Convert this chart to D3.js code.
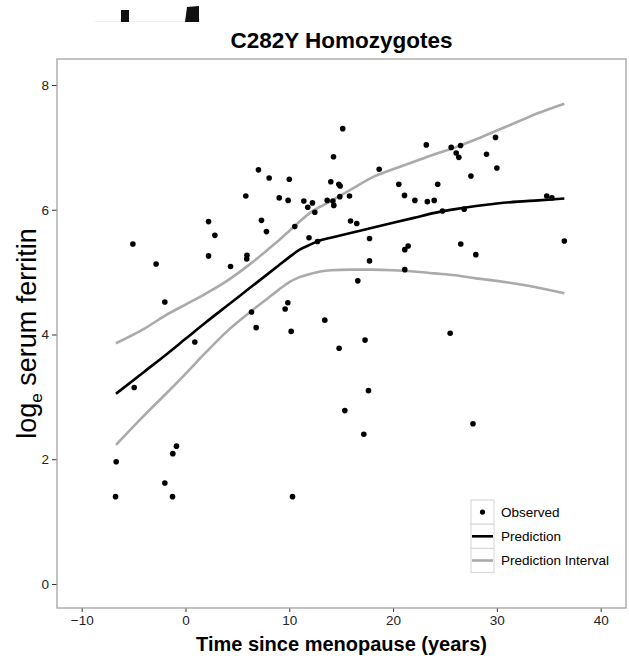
<!DOCTYPE html>
<html>
<head>
<meta charset="utf-8">
<script src="https://cdn.jsdelivr.net/npm/d3@7"></script>
<style>
  html, body { margin: 0; padding: 0; background: #fff; }
  svg { display: block; font-family: "Liberation Sans", Arial, sans-serif; }
</style>
</head>
<body>
<svg id="chart" width="629" height="663"></svg>
<script>
// ---- data ----
const obsX = [
  7.03, 8.06, 10.0, 5.81, 9.03, 9.89, 2.22, 7.32, 2.83, 7.80, -5.07, 2.22, 5.92, 5.90,
  4.34, -2.83, -1.99, 9.86, 9.6, 6.36,
  15.15, 23.2, 25.6, 26.5, 26.08, 26.33, 29.87, 29.0, 30.0, 14.26, 18.66, 14.0, 14.77, 14.9,
  27.5, 20.55, 24.3, 21.1, 22.1, 23.3, 23.96, 11.4, 12.23, 11.78, 13.65, 14.2, 14.29, 14.87,
  15.8, 12.46, 10.53, 15.9, 16.5, 11.9, 12.72, 17.73, 24.76, 26.85, 21.13, 21.45, 17.73,
  26.52, 27.97, 21.13, 16.6,
  6.81, 10.18, 13.42, 14.8, 17.3, 0.9, -4.94, 17.63, 15.35, 17.18, -0.87, -1.22, -6.68,
  -1.99, -6.74, -1.25, 10.31,
  25.5, 27.7, 36.5, 34.8, 35.3
];
const obsY = [
  6.64, 6.51, 6.49, 6.22, 6.19, 6.15, 5.81, 5.83, 5.59, 5.65, 5.45, 5.26, 5.27, 5.21,
  5.09, 5.13, 4.52, 4.51, 4.41, 4.36,
  7.30, 7.04, 7.00, 7.03, 6.91, 6.84, 7.16, 6.89, 6.67, 6.85, 6.65, 6.45, 6.41, 6.38,
  6.54, 6.41, 6.41, 6.23, 6.15, 6.13, 6.15, 6.14, 6.11, 6.04, 6.15, 6.14, 6.07, 6.21,
  6.22, 5.96, 5.73, 5.82, 5.78, 5.55, 5.49, 5.54, 5.98, 6.01, 5.36, 5.42, 5.18,
  5.45, 5.28, 5.04, 4.86,
  4.11, 4.05, 4.23, 3.78, 3.91, 3.88, 3.15, 3.10, 2.78, 2.40, 2.21, 2.09, 1.96,
  1.62, 1.40, 1.40, 1.40,
  4.02, 2.57, 5.50, 6.22, 6.19
];

const curveX    = [-6.7, -4, -2, 0, 2, 4, 6, 8, 9, 10, 11, 12, 13, 14, 16, 18, 20, 22, 24, 26, 28, 30, 32, 34, 36.5];
const predY     = [3.05, 3.40, 3.66, 3.93, 4.20, 4.46, 4.72, 4.98, 5.11, 5.24, 5.36, 5.44, 5.51, 5.55, 5.63, 5.71, 5.79, 5.87, 5.95, 6.01, 6.06, 6.10, 6.13, 6.15, 6.18];
const upperY    = [3.86, 4.09, 4.30, 4.48, 4.66, 4.86, 5.10, 5.37, 5.51, 5.66, 5.81, 5.95, 6.05, 6.14, 6.33, 6.52, 6.65, 6.77, 6.89, 7.00, 7.13, 7.27, 7.41, 7.55, 7.70];
const lowerY    = [2.23, 2.70, 3.03, 3.37, 3.72, 4.05, 4.33, 4.59, 4.72, 4.84, 4.92, 4.97, 5.01, 5.03, 5.04, 5.04, 5.03, 5.01, 4.98, 4.95, 4.90, 4.86, 4.81, 4.75, 4.66];

const xTicks = [-10, 0, 10, 20, 30, 40];
const yTicks = [0, 2, 4, 6, 8];
const legendLabels = ["Observed", "Prediction", "Prediction Interval"];

const titleText = "C282Y Homozygotes";
const xTitle = "Time since menopause (years)";

// ---- layout ----
const W = 629, H = 663;
const panel = { left: 57, top: 59, right: 626, bottom: 608 };

const svg = d3.select("#chart");

const x = d3.scaleLinear().domain([-12.38, 42.44]).range([panel.left, panel.right]);
const y = d3.scaleLinear().domain([-0.385, 8.417]).range([panel.bottom, panel.top]);

// small cropped fragments at the very top of the reference
const frag = svg.append("g").attr("class", "fragments");
frag.append("line").attr("x1", 95).attr("x2", 200).attr("y1", 21.5).attr("y2", 21.5)
  .attr("stroke", "#eeeeee").attr("stroke-width", 1);
frag.append("rect").attr("x", 121).attr("y", 10).attr("width", 8).attr("height", 12).attr("fill", "#111");
frag.append("path").attr("d", "M187,7 L199,6 L199,22 L185,22 Z").attr("fill", "#111");

// title
svg.append("text")
  .attr("x", (panel.left + panel.right) / 2)
  .attr("y", 48)
  .attr("text-anchor", "middle")
  .attr("font-size", 22.5)
  .attr("font-weight", "bold")
  .attr("fill", "#000")
  .text(titleText);

// axes
const xAxis = d3.axisBottom(x).tickValues(xTicks).tickSize(4).tickPadding(3).tickFormat(d3.format("d"));
const yAxis = d3.axisLeft(y).tickValues(yTicks).tickSize(5).tickPadding(3).tickFormat(d3.format("d"));

const gx = svg.append("g").attr("transform", `translate(0,${panel.bottom})`).call(xAxis);
const gy = svg.append("g").attr("transform", `translate(${panel.left},0)`).call(yAxis);
[gx, gy].forEach(g => {
  g.select(".domain").remove();
  g.selectAll(".tick line").attr("stroke", "#333").attr("stroke-width", 1);
  g.selectAll(".tick text").attr("font-size", 13.5).attr("fill", "#222")
    .attr("font-family", "'Liberation Sans', Arial, sans-serif");
});

// panel border
svg.append("rect")
  .attr("x", panel.left).attr("y", panel.top)
  .attr("width", panel.right - panel.left).attr("height", panel.bottom - panel.top)
  .attr("fill", "none").attr("stroke", "#a3a3a3").attr("stroke-width", 1.3);

// axis titles
svg.append("text")
  .attr("x", (panel.left + panel.right) / 2)
  .attr("y", 651)
  .attr("text-anchor", "middle")
  .attr("font-size", 20)
  .attr("font-weight", "bold")
  .attr("fill", "#000")
  .text(xTitle);

const yt = svg.append("text")
  .attr("transform", `translate(36,${(panel.top + panel.bottom) / 2}) rotate(-90)`)
  .attr("text-anchor", "middle")
  .attr("font-size", 27)
  .attr("fill", "#000");
yt.append("tspan").text("log");
yt.append("tspan").attr("font-size", 17).attr("dy", 6).text("e");
yt.append("tspan").attr("dy", -6).text(" serum ferritin");

// lines
const line = (ys) => d3.line()
  .x((d, i) => x(curveX[i]))
  .y((d, i) => y(ys[i]))
  .curve(d3.curveMonotoneX)(curveX);

const plot = svg.append("g");
plot.append("path").attr("d", line(upperY)).attr("fill", "none").attr("stroke", "#aaaaaa").attr("stroke-width", 2.6);
plot.append("path").attr("d", line(lowerY)).attr("fill", "none").attr("stroke", "#aaaaaa").attr("stroke-width", 2.6);
plot.append("path").attr("d", line(predY)).attr("fill", "none").attr("stroke", "#000").attr("stroke-width", 2.6);

// points
plot.selectAll("circle.obs")
  .data(obsX.map((v, i) => [v, obsY[i]]))
  .enter().append("circle")
  .attr("class", "obs")
  .attr("cx", d => x(d[0]))
  .attr("cy", d => y(d[1]))
  .attr("r", 2.8)
  .attr("fill", "#000");

// legend
const leg = svg.append("g").attr("transform", "translate(471,500)");
const keyW = 23, keyH = 24.2;
legendLabels.forEach((lab, i) => {
  const g = leg.append("g").attr("transform", `translate(0,${i * keyH})`);
  g.append("rect").attr("x", 0).attr("y", 0).attr("width", keyW).attr("height", keyH)
    .attr("fill", "#fff").attr("stroke", "#d4d4d4").attr("stroke-width", 1);
  if (i === 0) {
    g.append("circle").attr("cx", keyW / 2).attr("cy", keyH / 2).attr("r", 2.6).attr("fill", "#000");
  } else {
    g.append("line").attr("x1", 1).attr("x2", keyW - 1).attr("y1", keyH / 2).attr("y2", keyH / 2)
      .attr("stroke", i === 1 ? "#000" : "#aaaaaa").attr("stroke-width", 2.6);
  }
  g.append("text").attr("x", keyW + 7).attr("y", keyH / 2 + 4.6)
    .attr("font-size", 13.5).attr("fill", "#000").text(lab);
});
</script>
</body>
</html>
